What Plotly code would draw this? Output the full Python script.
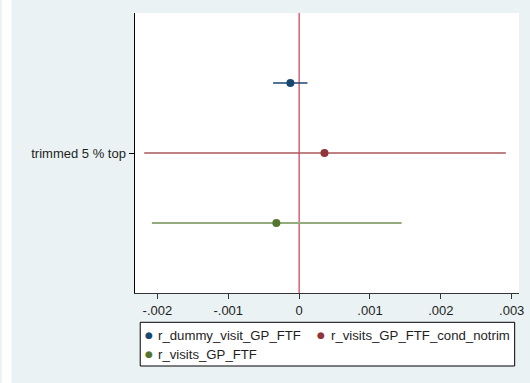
import plotly.graph_objects as go

# ---- data ----
category = ["trimmed 5 % top"]
series_names = ["r_dummy_visit_GP_FTF", "r_visits_GP_FTF_cond_notrim", "r_visits_GP_FTF"]
estimates = [-0.000123, 0.000358, -0.000321]
ci_low = [-0.000367, -0.002186, -0.002078]
ci_high = [0.000118, 0.002917, 0.001447]
x_tick_vals = [-0.002, -0.001, 0, 0.001, 0.002, 0.003]
x_tick_text = ["-.002", "-.001", "0", ".001", ".002", ".003"]

# ---- styles ----
marker_colors = ["#1a476f", "#90353b", "#55752f"]
ci_colors = ["#1a476f", "#a8585d", "#93ab7d"]
ci_widths = [1.5, 1.5, 2.2]
offsets = [1, 0, -1]

W, H = 530, 383
L, R, T, B = 135, 6, 13, 90
pw = W - L - R
ph = H - T - B


def px(xp):
    return (xp - L) / pw


def py(yp):
    return (T + ph - yp) / ph


fig = go.Figure()
for i, name in enumerate(series_names):
    fig.add_trace(go.Scatter(
        x=[estimates[i]],
        y=[offsets[i]],
        mode="markers",
        name=name,
        showlegend=False,
        hoverinfo="skip",
        marker=dict(color=marker_colors[i], size=8),
        error_x=dict(
            type="data", symmetric=False,
            array=[ci_high[i] - estimates[i]],
            arrayminus=[estimates[i] - ci_low[i]],
            color=ci_colors[i], thickness=ci_widths[i], width=0,
        ),
    ))

fig.add_shape(type="line", xref="x", yref="paper", x0=0, x1=0, y0=0, y1=1,
              line=dict(color="#c8102e", width=1), layer="below")
# white strip on far left of the canvas
fig.add_shape(type="rect", xref="paper", yref="paper",
              x0=px(0), x1=px(10), y0=py(H + 2), y1=py(-2),
              fillcolor="white", line=dict(width=0), layer="below")

font = "Liberation Sans, Arial, sans-serif"

# ---- legend (drawn as box + annotations) ----
fig.add_shape(type="rect", xref="paper", yref="paper",
              x0=px(140.3), x1=px(519.6), y0=py(366), y1=py(322.3),
              fillcolor="white", line=dict(color="#000000", width=1), layer="above")
leg_pos = [(148.7, 335), (323.9, 335), (148.7, 354)]
for i, name in enumerate(series_names):
    mx, my = leg_pos[i]
    fig.add_annotation(xref="paper", yref="paper", x=px(mx), y=py(my),
                       text="●", showarrow=False, xanchor="center", yanchor="middle",
                       font=dict(family="DejaVu Sans", size=9, color=marker_colors[i]))
    fig.add_annotation(xref="paper", yref="paper", x=px(mx + 8), y=py(my),
                       text=name, showarrow=False, xanchor="left", yanchor="middle",
                       font=dict(family=font, size=13.2, color="#1e1e1e"))

fig.update_layout(
    width=W, height=H, autosize=False,
    margin=dict(l=L, r=R, t=T, b=B, pad=0),
    paper_bgcolor="#eaf2f3",
    plot_bgcolor="white",
    font=dict(family=font, size=13, color="#1e1e1e"),
    showlegend=False,
    hovermode=False,
    xaxis=dict(
        range=[-0.002316, 0.003103],
        tickvals=x_tick_vals, ticktext=x_tick_text,
        ticks="outside", ticklen=5, tickcolor="#333333", tickwidth=1,
        showline=True, linecolor="#333333", linewidth=1,
        showgrid=False, zeroline=False,
        tickfont=dict(family=font, size=13, color="#1e1e1e"),
    ),
    yaxis=dict(
        range=[-2, 2],
        tickvals=[0], ticktext=category,
        ticks="outside", ticklen=5, tickcolor="#000000", tickwidth=1,
        showline=True, linecolor="#000000", linewidth=1.5,
        showgrid=False, zeroline=False,
        tickfont=dict(family=font, size=13, color="#1e1e1e"),
    ),
)

css_js = (
    "var s=document.createElement('style');"
    "s.textContent='html,body{margin:0!important;padding:0!important;overflow:hidden;"
    "background:#eaf2f3;}';"
    "document.head.appendChild(s);"
)

fig.write_html(
    "out.html",
    config={"displayModeBar": False, "responsive": False, "staticPlot": True},
    post_script=css_js,
)
